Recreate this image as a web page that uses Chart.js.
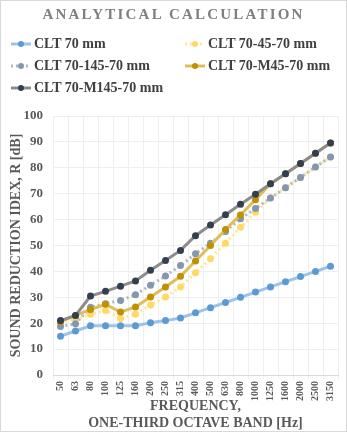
<!DOCTYPE html>
<html>
<head>
<meta charset="utf-8">
<script src="https://cdn.jsdelivr.net/npm/chart.js@4.4.1/dist/chart.umd.min.js"></script>
<style>
    html, body { margin: 0; padding: 0; background: #fff; }
    #wrap { position: relative; width: 345px; height: 430px; border: 1px solid #D9D9D9; background: #fff; }
    #title {
        position: absolute; top: 5px; left: 0; width: 100%; text-align: center;
        font: bold 15px "Liberation Serif"; letter-spacing: 2.2px; color: #7F7F7F;
    }
    #legend {
        position: absolute; top: 33px; left: 10px;
        display: grid; grid-template-columns: 174px 160px; row-gap: 2px;
    }
    .item { display: flex; align-items: center; height: 20px; font: bold 14px "Liberation Serif"; color: #404040; white-space: nowrap; }
    .item canvas { margin-right: 3px; }
    #chart { position: absolute; left: 0; top: 0; }
</style>
</head>
<body>
<div id="wrap">
    <canvas id="chart" width="345" height="430"></canvas>
    <div id="title">ANALYTICAL CALCULATION</div>
    <div id="legend"></div>
</div>
<script>
// Частоты третьоктавных полос, Гц
const frequencies = ['50', '63', '80', '100', '125', '160', '200', '250', '315', '400',
    '500', '630', '800', '1000', '1250', '1600', '2000', '2500', '3150'];

// Индекс звукоизоляции R, дБ
const clt70 = [15, 17, 19, 19, 19, 19, 20.2, 21, 22, 24, 26, 28, 30, 32, 34, 36, 38, 40, 42];
const clt70_45_70 = [20.2, 21.5, 23.5, 24.9, 21.8, 23.5, 27, 30.1, 34, 39.5, 44.9, 50.9, 57, 62.8, 68.3, 72.3, 76.3, 80.3, 84.2];
const clt70_145_70 = [18.7, 19.8, 26.2, 27.5, 28.8, 31, 34.7, 38.2, 42.3, 46.8, 50.9, 55.4, 60.3, 64.3, 68.3, 72.3, 76.3, 80.3, 84.2];
const clt70_M45_70 = [20.6, 23, 25.3, 27.3, 24.3, 26.3, 30.1, 34, 38.1, 44, 50, 56.2, 61.8, 67.7, 73.8, 77.7, 81.7, 85.6, 89.6];
const clt70_M145_70 = [21, 23, 30.5, 32.3, 34.3, 36.3, 40.4, 44.2, 48.1, 53.8, 57.9, 61.9, 65.9, 69.8, 73.8, 77.7, 81.7, 85.6, 89.6];

const yMin = 0;
const yMax = 100;
const yStep = 10;

const serif = '"Liberation Serif", "Times New Roman", serif';
const textColor = '#595959';

// Серии: подпись, данные, цвет линии, цвет маркера, пунктир
const series = [
    { label: 'CLT 70 mm', data: clt70, line: '#9DC3E6', point: '#5B9BD5', dash: [] },
    { label: 'CLT 70-45-70 mm', data: clt70_45_70, line: '#FFE699', point: '#FFD966', dash: [2, 3] },
    { label: 'CLT 70-145-70 mm', data: clt70_145_70, line: '#ADB9CA', point: '#8497B0', dash: [2, 3] },
    { label: 'CLT 70-M45-70 mm', data: clt70_M45_70, line: '#DDBE5A', point: '#BF9000', dash: [] },
    { label: 'CLT 70-M145-70 mm', data: clt70_M145_70, line: '#8C8C8C', point: '#333F50', dash: [] }
];

const datasets = series.map((s, i) => ({
    label: s.label,
    data: s.data,
    borderColor: s.line,
    backgroundColor: s.point,
    pointBackgroundColor: s.point,
    pointBorderColor: s.point,
    borderWidth: 3,
    borderDash: s.dash,
    borderCapStyle: 'butt',
    pointRadius: 3.5,
    pointBorderWidth: 0,
    tension: 0,
    fill: false,
    order: series.length - i // последняя серия рисуется поверх
}));

// Легенда: линия с маркером + подпись
const legend = document.getElementById('legend');
series.forEach(s => {
    const item = document.createElement('div');
    item.className = 'item';
    const c = document.createElement('canvas');
    c.width = 20; c.height = 10;
    const g = c.getContext('2d');
    g.strokeStyle = s.line;
    g.lineWidth = 3;
    g.setLineDash(s.dash);
    g.beginPath(); g.moveTo(0, 5); g.lineTo(20, 5); g.stroke();
    g.fillStyle = s.point;
    g.beginPath(); g.arc(10, 5, 3, 0, Math.PI * 2); g.fill();
    item.appendChild(c);
    const t = document.createElement('span');
    t.textContent = s.label;
    item.appendChild(t);
    legend.appendChild(item);
});

new Chart(document.getElementById('chart').getContext('2d'), {
    type: 'line',
    data: { labels: frequencies, datasets: datasets },
    options: {
        responsive: false,
        animation: false,
        layout: { padding: { top: 115, right: 8, left: 0, bottom: 0 } },
        plugins: {
            legend: { display: false },
            title: { display: false },
            tooltip: { enabled: false }
        },
        scales: {
            x: {
                offset: true,
                grid: { offset: true, color: '#EFEFEF', tickLength: 4 },
                border: { color: '#D9D9D9' },
                ticks: {
                    minRotation: 90, maxRotation: 90, autoSkip: false,
                    color: textColor, padding: 2,
                    font: { family: serif, size: 10, weight: 'bold' }
                },
                title: {
                    display: true,
                    text: ['FREQUENCY,', 'ONE-THIRD OCTAVE BAND [Hz]'],
                    color: textColor,
                    padding: { top: 0, bottom: 0 },
                    font: { family: serif, size: 14, weight: 'bold', lineHeight: 1.15 }
                },
                afterFit: (scale) => { scale.height = 56; }
            },
            y: {
                min: yMin, max: yMax,
                grid: { color: '#EFEFEF', drawTicks: false },
                border: { display: false },
                ticks: {
                    stepSize: yStep, color: textColor, padding: 10,
                    font: { family: serif, size: 13, weight: 'bold' }
                },
                title: {
                    display: true,
                    text: 'SOUND REDUCTION IDEX, R [dB]',
                    color: textColor,
                    padding: { top: 7, bottom: 0 },
                    font: { family: serif, size: 14, weight: 'bold' }
                },
                afterFit: (scale) => { scale.width = 52; }
            }
        }
    }
});
</script>
</body>
</html>
